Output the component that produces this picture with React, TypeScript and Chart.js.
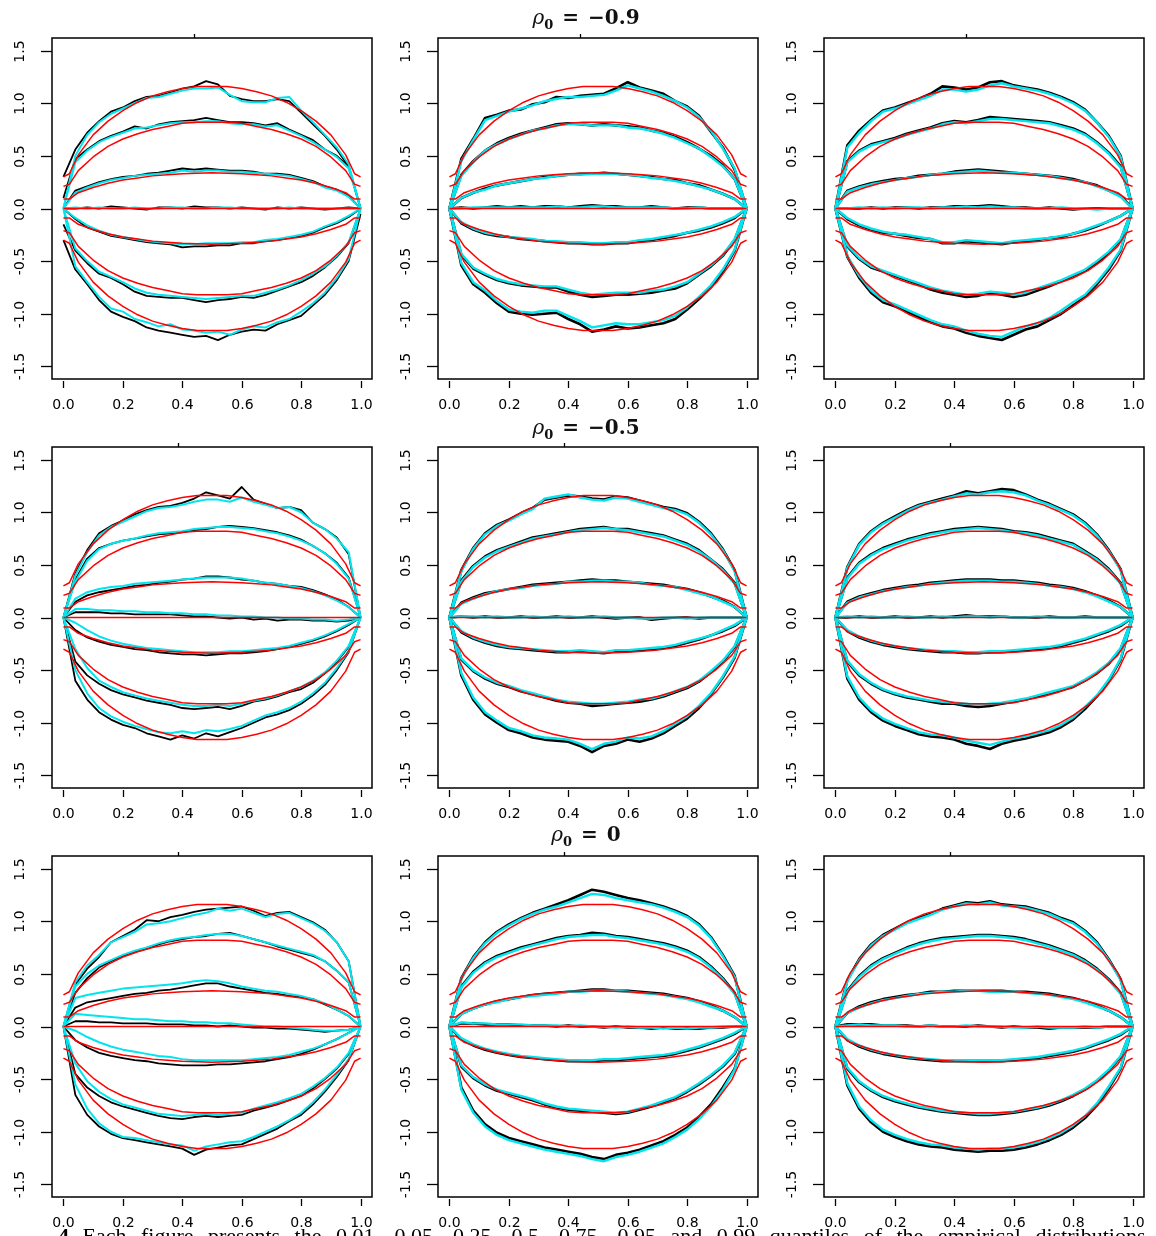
import React, { useEffect, useRef } from "react";
import { Chart, registerables } from "chart.js";
Chart.register(...registerables);

// ---------- shared grids / ticks ----------
const T = [0, 0.04, 0.08, 0.12, 0.16, 0.2, 0.24, 0.28, 0.32, 0.36, 0.4, 0.44, 0.48, 0.52, 0.56, 0.6, 0.64, 0.68, 0.72, 0.76, 0.8, 0.84, 0.88, 0.92, 0.96, 1.0];
const RT = [0, 0.02, 0.05, 0.1, 0.15, 0.2, 0.25, 0.3, 0.35, 0.4, 0.45, 0.5, 0.55, 0.6, 0.65, 0.7, 0.75, 0.8, 0.85, 0.9, 0.95, 0.98, 1.0];
const X_TICKS = [0, 0.2, 0.4, 0.6, 0.8, 1.0];
const X_LABELS = ["0.0", "0.2", "0.4", "0.6", "0.8", "1.0"];
const Y_TICKS = [-1.5, -1.0, -0.5, 0, 0.5, 1.0, 1.5];
const Y_LABELS = ["-1.5", "-1.0", "-0.5", "0.0", "0.5", "1.0", "1.5"];
const ROW_TITLES = ["\u22120.9", "\u22120.5", "0"];
const CAPTION_LEAD = "4.";
const CAPTION = "Each figure presents the 0.01, 0.05, 0.25, 0.5, 0.75, 0.95 and 0.99 quantiles of the empirical distributions";

// ---------- theoretical quantile curves (red) ----------
const RED_99 = [0.30, 0.33, 0.51, 0.70, 0.83, 0.93, 1.01, 1.07, 1.11, 1.14, 1.16, 1.16, 1.16, 1.14, 1.11, 1.07, 1.01, 0.93, 0.83, 0.70, 0.51, 0.33, 0.30];
const RED_95 = [0.21, 0.23, 0.36, 0.49, 0.59, 0.66, 0.71, 0.75, 0.78, 0.81, 0.82, 0.82, 0.82, 0.81, 0.78, 0.75, 0.71, 0.66, 0.59, 0.49, 0.36, 0.23, 0.21];
const RED_75 = [0.09, 0.09, 0.15, 0.20, 0.24, 0.27, 0.29, 0.31, 0.32, 0.33, 0.335, 0.34, 0.335, 0.33, 0.32, 0.31, 0.29, 0.27, 0.24, 0.20, 0.15, 0.09, 0.09];
const RED_50 = [0, 0, 0, 0, 0, 0, 0, 0, 0, 0, 0, 0, 0, 0, 0, 0, 0, 0, 0, 0, 0, 0, 0];
const RED_25 = [-0.09, -0.09, -0.15, -0.20, -0.24, -0.27, -0.29, -0.31, -0.32, -0.33, -0.335, -0.34, -0.335, -0.33, -0.32, -0.31, -0.29, -0.27, -0.24, -0.20, -0.15, -0.09, -0.09];
const RED_05 = [-0.21, -0.23, -0.36, -0.49, -0.59, -0.66, -0.71, -0.75, -0.78, -0.81, -0.82, -0.82, -0.82, -0.81, -0.78, -0.75, -0.71, -0.66, -0.59, -0.49, -0.36, -0.23, -0.21];
const RED_01 = [-0.30, -0.33, -0.51, -0.70, -0.83, -0.93, -1.01, -1.07, -1.11, -1.14, -1.16, -1.16, -1.16, -1.14, -1.11, -1.07, -1.01, -0.93, -0.83, -0.70, -0.51, -0.33, -0.30];
const RED = [RED_99, RED_95, RED_75, RED_50, RED_25, RED_05, RED_01];

// ---------- empirical quantiles: rows = 0.99, 0.95, 0.75, 0.5, 0.25, 0.05, 0.01 ----------
// row 1 (rho0 = -0.9)
const P11_BLACK = [
  [0.30, 0.56, 0.72, 0.83, 0.92, 0.96, 1.02, 1.06, 1.07, 1.10, 1.14, 1.16, 1.21, 1.18, 1.07, 1.04, 1.02, 1.02, 1.04, 1.02, 0.91, 0.80, 0.69, 0.56, 0.40, 0.0],
  [0.10, 0.47, 0.56, 0.64, 0.69, 0.73, 0.78, 0.76, 0.80, 0.82, 0.83, 0.84, 0.86, 0.84, 0.82, 0.82, 0.81, 0.79, 0.81, 0.75, 0.70, 0.65, 0.56, 0.50, 0.40, 0.0],
  [0.0, 0.17, 0.21, 0.25, 0.28, 0.30, 0.31, 0.33, 0.34, 0.36, 0.38, 0.37, 0.38, 0.37, 0.36, 0.36, 0.35, 0.33, 0.33, 0.32, 0.29, 0.26, 0.21, 0.18, 0.12, 0.0],
  [0.0, 0.0, 0.01, 0.0, 0.02, 0.01, 0.0, -0.01, 0.01, 0.01, 0.0, 0.02, 0.01, 0.01, 0.0, 0.01, 0.0, -0.01, 0.01, 0.0, 0.01, 0.0, -0.01, 0.0, 0.01, 0.0],
  [0.0, -0.10, -0.18, -0.22, -0.26, -0.28, -0.30, -0.32, -0.33, -0.34, -0.37, -0.36, -0.36, -0.35, -0.35, -0.33, -0.33, -0.31, -0.30, -0.28, -0.26, -0.23, -0.18, -0.14, -0.08, 0.0],
  [-0.15, -0.40, -0.52, -0.62, -0.66, -0.72, -0.79, -0.83, -0.84, -0.85, -0.85, -0.87, -0.89, -0.87, -0.86, -0.84, -0.85, -0.82, -0.78, -0.74, -0.70, -0.64, -0.56, -0.46, -0.33, 0.0],
  [-0.30, -0.58, -0.72, -0.87, -0.98, -1.03, -1.07, -1.13, -1.16, -1.18, -1.20, -1.22, -1.21, -1.25, -1.20, -1.17, -1.15, -1.16, -1.10, -1.06, -1.02, -0.92, -0.82, -0.68, -0.50, -0.05],
];
const P11_CYAN = [
  [0.0, 0.50, 0.70, 0.82, 0.90, 0.95, 1.00, 1.05, 1.06, 1.09, 1.12, 1.14, 1.14, 1.15, 1.08, 1.02, 1.01, 1.01, 1.05, 1.06, 0.93, 0.82, 0.70, 0.58, 0.42, 0.0],
  [0.0, 0.44, 0.55, 0.63, 0.68, 0.72, 0.76, 0.77, 0.79, 0.81, 0.82, 0.82, 0.83, 0.83, 0.81, 0.80, 0.80, 0.78, 0.79, 0.74, 0.69, 0.63, 0.56, 0.49, 0.38, 0.0],
  [0.0, 0.15, 0.20, 0.24, 0.27, 0.29, 0.31, 0.32, 0.33, 0.34, 0.36, 0.35, 0.36, 0.36, 0.35, 0.35, 0.34, 0.33, 0.32, 0.31, 0.28, 0.25, 0.20, 0.17, 0.11, 0.0],
  [0.0, 0.01, 0.0, 0.01, 0.0, 0.0, 0.01, 0.0, 0.0, 0.01, 0.01, 0.0, 0.0, 0.01, 0.01, 0.0, 0.0, 0.0, 0.0, 0.01, 0.0, 0.0, 0.0, 0.0, 0.0, 0.0],
  [0.0, -0.09, -0.16, -0.21, -0.25, -0.27, -0.29, -0.31, -0.32, -0.33, -0.34, -0.34, -0.33, -0.33, -0.33, -0.32, -0.32, -0.30, -0.29, -0.27, -0.25, -0.22, -0.17, -0.13, -0.07, 0.0],
  [0.0, -0.38, -0.50, -0.60, -0.65, -0.70, -0.76, -0.80, -0.82, -0.83, -0.84, -0.85, -0.86, -0.85, -0.84, -0.83, -0.83, -0.80, -0.77, -0.73, -0.68, -0.62, -0.55, -0.45, -0.32, 0.0],
  [0.0, -0.55, -0.70, -0.84, -0.95, -0.98, -1.05, -1.08, -1.12, -1.10, -1.15, -1.16, -1.18, -1.17, -1.20, -1.15, -1.12, -1.13, -1.08, -1.05, -0.98, -0.90, -0.80, -0.66, -0.48, 0.0],
];
const P12_BLACK = [
  [0.0, 0.47, 0.66, 0.86, 0.89, 0.93, 0.94, 0.99, 1.01, 1.06, 1.05, 1.07, 1.08, 1.09, 1.14, 1.20, 1.15, 1.12, 1.09, 1.02, 0.97, 0.88, 0.73, 0.58, 0.37, 0.0],
  [0.0, 0.32, 0.45, 0.55, 0.62, 0.67, 0.71, 0.74, 0.77, 0.80, 0.81, 0.80, 0.79, 0.80, 0.79, 0.78, 0.77, 0.74, 0.72, 0.68, 0.63, 0.57, 0.50, 0.41, 0.28, 0.0],
  [0.0, 0.10, 0.15, 0.19, 0.22, 0.24, 0.26, 0.28, 0.30, 0.31, 0.32, 0.33, 0.33, 0.34, 0.33, 0.32, 0.31, 0.30, 0.28, 0.27, 0.24, 0.22, 0.18, 0.14, 0.09, 0.0],
  [0.0, 0.01, 0.0, 0.01, 0.02, 0.01, 0.02, 0.01, 0.02, 0.02, 0.01, 0.02, 0.03, 0.02, 0.02, 0.01, 0.01, 0.02, 0.01, 0.0, 0.01, 0.01, 0.0, 0.0, 0.0, 0.0],
  [0.0, -0.14, -0.20, -0.24, -0.26, -0.27, -0.29, -0.30, -0.31, -0.32, -0.33, -0.33, -0.34, -0.34, -0.33, -0.33, -0.31, -0.30, -0.28, -0.26, -0.23, -0.21, -0.18, -0.14, -0.09, 0.0],
  [0.0, -0.44, -0.57, -0.63, -0.68, -0.71, -0.73, -0.74, -0.75, -0.75, -0.79, -0.82, -0.84, -0.83, -0.82, -0.82, -0.81, -0.80, -0.78, -0.76, -0.71, -0.63, -0.55, -0.45, -0.30, 0.0],
  [0.0, -0.54, -0.72, -0.80, -0.90, -0.98, -1.00, -1.01, -1.00, -0.99, -1.05, -1.10, -1.17, -1.15, -1.12, -1.14, -1.13, -1.11, -1.09, -1.05, -0.96, -0.86, -0.75, -0.60, -0.40, 0.0],
];
const P12_CYAN = [
  [0.0, 0.45, 0.65, 0.84, 0.88, 0.92, 0.95, 0.98, 1.02, 1.04, 1.06, 1.06, 1.07, 1.08, 1.12, 1.17, 1.14, 1.11, 1.07, 1.02, 0.96, 0.87, 0.74, 0.57, 0.38, 0.0],
  [0.0, 0.31, 0.44, 0.55, 0.61, 0.66, 0.70, 0.74, 0.76, 0.79, 0.80, 0.80, 0.79, 0.79, 0.79, 0.77, 0.76, 0.74, 0.71, 0.67, 0.62, 0.57, 0.49, 0.40, 0.28, 0.0],
  [0.0, 0.10, 0.15, 0.18, 0.22, 0.24, 0.26, 0.28, 0.29, 0.31, 0.32, 0.32, 0.33, 0.33, 0.33, 0.32, 0.31, 0.29, 0.28, 0.26, 0.24, 0.21, 0.18, 0.14, 0.09, 0.0],
  [0.0, 0.0, 0.01, 0.01, 0.01, 0.01, 0.01, 0.01, 0.01, 0.02, 0.01, 0.01, 0.02, 0.02, 0.01, 0.01, 0.01, 0.01, 0.01, 0.0, 0.0, 0.01, 0.0, 0.0, 0.0, 0.0],
  [0.0, -0.13, -0.19, -0.23, -0.25, -0.27, -0.28, -0.29, -0.31, -0.31, -0.32, -0.32, -0.33, -0.33, -0.32, -0.32, -0.30, -0.29, -0.27, -0.25, -0.23, -0.20, -0.17, -0.13, -0.08, 0.0],
  [0.0, -0.43, -0.56, -0.62, -0.67, -0.70, -0.72, -0.73, -0.74, -0.74, -0.77, -0.80, -0.82, -0.81, -0.80, -0.80, -0.80, -0.78, -0.77, -0.74, -0.70, -0.62, -0.54, -0.44, -0.29, 0.0],
  [0.0, -0.52, -0.70, -0.78, -0.88, -0.96, -0.98, -0.99, -0.97, -0.97, -1.02, -1.07, -1.13, -1.11, -1.09, -1.10, -1.10, -1.08, -1.06, -1.02, -0.94, -0.84, -0.73, -0.58, -0.39, 0.0],
];
const P13_BLACK = [
  [0.0, 0.60, 0.74, 0.84, 0.93, 0.96, 1.00, 1.04, 1.09, 1.16, 1.15, 1.13, 1.15, 1.20, 1.21, 1.17, 1.15, 1.13, 1.10, 1.06, 1.01, 0.94, 0.82, 0.69, 0.50, 0.0],
  [0.0, 0.45, 0.55, 0.61, 0.64, 0.67, 0.71, 0.74, 0.77, 0.81, 0.83, 0.82, 0.84, 0.87, 0.86, 0.85, 0.84, 0.83, 0.82, 0.79, 0.76, 0.71, 0.63, 0.53, 0.40, 0.0],
  [0.0, 0.17, 0.21, 0.24, 0.26, 0.28, 0.29, 0.31, 0.32, 0.33, 0.35, 0.36, 0.37, 0.36, 0.35, 0.34, 0.33, 0.32, 0.31, 0.30, 0.28, 0.25, 0.22, 0.17, 0.12, 0.0],
  [0.0, 0.0, 0.0, 0.01, 0.0, 0.01, 0.01, 0.0, 0.01, 0.01, 0.02, 0.02, 0.02, 0.03, 0.02, 0.01, 0.01, 0.0, 0.01, 0.0, -0.01, 0.0, 0.0, 0.0, 0.0, 0.0],
  [0.0, -0.10, -0.16, -0.20, -0.23, -0.24, -0.26, -0.28, -0.29, -0.33, -0.33, -0.31, -0.32, -0.33, -0.34, -0.32, -0.31, -0.30, -0.28, -0.27, -0.24, -0.21, -0.17, -0.12, -0.07, 0.0],
  [0.0, -0.36, -0.48, -0.56, -0.60, -0.64, -0.68, -0.72, -0.77, -0.80, -0.82, -0.84, -0.83, -0.80, -0.82, -0.84, -0.82, -0.78, -0.74, -0.69, -0.64, -0.59, -0.52, -0.42, -0.30, 0.0],
  [0.0, -0.46, -0.66, -0.80, -0.89, -0.93, -0.98, -1.03, -1.08, -1.12, -1.14, -1.18, -1.21, -1.23, -1.25, -1.20, -1.15, -1.12, -1.06, -1.00, -0.92, -0.84, -0.72, -0.58, -0.40, 0.0],
];
const P13_CYAN = [
  [0.0, 0.58, 0.72, 0.83, 0.92, 0.95, 0.99, 1.03, 1.07, 1.13, 1.13, 1.11, 1.13, 1.17, 1.19, 1.16, 1.14, 1.12, 1.09, 1.05, 1.00, 0.93, 0.82, 0.68, 0.49, 0.0],
  [0.0, 0.44, 0.54, 0.60, 0.63, 0.66, 0.70, 0.73, 0.76, 0.80, 0.82, 0.81, 0.83, 0.85, 0.85, 0.84, 0.83, 0.82, 0.81, 0.78, 0.75, 0.70, 0.62, 0.52, 0.39, 0.0],
  [0.0, 0.16, 0.20, 0.23, 0.25, 0.27, 0.29, 0.30, 0.32, 0.33, 0.34, 0.35, 0.36, 0.35, 0.34, 0.34, 0.33, 0.32, 0.31, 0.29, 0.27, 0.25, 0.21, 0.17, 0.11, 0.0],
  [0.0, 0.0, 0.01, 0.0, 0.01, 0.0, 0.01, 0.01, 0.0, 0.01, 0.01, 0.02, 0.01, 0.02, 0.01, 0.01, 0.0, 0.0, 0.0, 0.01, 0.0, 0.0, -0.01, 0.0, 0.0, 0.0],
  [0.0, -0.09, -0.15, -0.19, -0.22, -0.24, -0.25, -0.27, -0.29, -0.32, -0.32, -0.30, -0.31, -0.32, -0.33, -0.31, -0.30, -0.29, -0.28, -0.26, -0.24, -0.20, -0.16, -0.12, -0.07, 0.0],
  [0.0, -0.35, -0.47, -0.55, -0.59, -0.63, -0.67, -0.71, -0.75, -0.78, -0.80, -0.82, -0.81, -0.79, -0.80, -0.82, -0.80, -0.76, -0.72, -0.68, -0.63, -0.58, -0.50, -0.41, -0.29, 0.0],
  [0.0, -0.45, -0.64, -0.78, -0.87, -0.91, -0.96, -1.01, -1.06, -1.10, -1.12, -1.16, -1.19, -1.21, -1.22, -1.17, -1.12, -1.09, -1.04, -0.97, -0.89, -0.82, -0.70, -0.56, -0.39, 0.0],
];
// row 2 (rho0 = -0.5)
const P21_BLACK = [
  [0.0, 0.42, 0.64, 0.80, 0.87, 0.92, 0.98, 1.02, 1.05, 1.06, 1.09, 1.13, 1.19, 1.16, 1.13, 1.24, 1.12, 1.08, 1.04, 1.05, 1.02, 0.90, 0.84, 0.76, 0.60, 0.0],
  [0.0, 0.36, 0.56, 0.66, 0.70, 0.73, 0.75, 0.77, 0.79, 0.80, 0.81, 0.83, 0.84, 0.86, 0.87, 0.86, 0.85, 0.83, 0.81, 0.78, 0.74, 0.68, 0.61, 0.52, 0.38, 0.0],
  [0.0, 0.15, 0.21, 0.24, 0.26, 0.28, 0.30, 0.31, 0.33, 0.34, 0.36, 0.37, 0.39, 0.39, 0.38, 0.36, 0.35, 0.33, 0.32, 0.30, 0.29, 0.26, 0.22, 0.17, 0.10, 0.0],
  [0.0, 0.05, 0.05, 0.05, 0.04, 0.04, 0.03, 0.03, 0.03, 0.03, 0.02, 0.01, 0.01, 0.0, -0.01, 0.0, -0.02, -0.01, -0.03, -0.02, -0.02, -0.03, -0.03, -0.04, -0.03, 0.0],
  [0.0, -0.12, -0.19, -0.23, -0.26, -0.28, -0.30, -0.31, -0.33, -0.34, -0.35, -0.35, -0.36, -0.35, -0.34, -0.34, -0.33, -0.32, -0.30, -0.28, -0.25, -0.22, -0.18, -0.13, -0.07, 0.0],
  [0.0, -0.42, -0.55, -0.63, -0.69, -0.73, -0.76, -0.79, -0.81, -0.83, -0.86, -0.87, -0.86, -0.85, -0.87, -0.84, -0.80, -0.78, -0.75, -0.71, -0.68, -0.62, -0.53, -0.42, -0.28, 0.0],
  [0.0, -0.60, -0.78, -0.90, -0.97, -1.02, -1.05, -1.10, -1.13, -1.16, -1.12, -1.15, -1.10, -1.13, -1.09, -1.05, -1.00, -0.95, -0.92, -0.88, -0.82, -0.74, -0.64, -0.50, -0.33, 0.0],
];
const P21_CYAN = [
  [0.0, 0.40, 0.62, 0.78, 0.86, 0.91, 0.96, 1.01, 1.04, 1.05, 1.07, 1.10, 1.12, 1.12, 1.10, 1.14, 1.10, 1.07, 1.04, 1.05, 1.00, 0.90, 0.84, 0.75, 0.62, 0.0],
  [0.0, 0.34, 0.54, 0.65, 0.70, 0.73, 0.75, 0.78, 0.80, 0.81, 0.82, 0.84, 0.85, 0.86, 0.86, 0.85, 0.84, 0.82, 0.80, 0.77, 0.73, 0.68, 0.61, 0.51, 0.37, 0.0],
  [0.0, 0.18, 0.24, 0.27, 0.29, 0.30, 0.32, 0.33, 0.34, 0.35, 0.36, 0.37, 0.38, 0.38, 0.38, 0.37, 0.35, 0.33, 0.32, 0.30, 0.28, 0.25, 0.21, 0.16, 0.10, 0.0],
  [0.0, 0.08, 0.08, 0.07, 0.07, 0.06, 0.06, 0.05, 0.05, 0.04, 0.04, 0.03, 0.03, 0.02, 0.02, 0.01, 0.01, 0.0, 0.0, -0.01, -0.01, -0.02, -0.02, -0.03, -0.02, 0.0],
  [0.0, -0.05, -0.12, -0.18, -0.22, -0.25, -0.27, -0.29, -0.30, -0.31, -0.32, -0.33, -0.33, -0.33, -0.32, -0.32, -0.31, -0.30, -0.29, -0.27, -0.24, -0.21, -0.17, -0.12, -0.06, 0.0],
  [0.0, -0.30, -0.48, -0.60, -0.66, -0.71, -0.74, -0.77, -0.79, -0.81, -0.83, -0.84, -0.84, -0.83, -0.84, -0.82, -0.79, -0.77, -0.74, -0.70, -0.66, -0.60, -0.52, -0.41, -0.27, 0.0],
  [0.0, -0.50, -0.72, -0.86, -0.94, -0.99, -1.03, -1.06, -1.09, -1.10, -1.08, -1.10, -1.07, -1.08, -1.06, -1.03, -0.98, -0.93, -0.90, -0.86, -0.80, -0.72, -0.62, -0.48, -0.32, 0.0],
];
const P22_BLACK = [
  [0.0, 0.45, 0.66, 0.80, 0.88, 0.93, 0.99, 1.04, 1.12, 1.14, 1.16, 1.15, 1.13, 1.12, 1.15, 1.14, 1.11, 1.08, 1.05, 1.03, 0.99, 0.91, 0.80, 0.65, 0.45, 0.0],
  [0.0, 0.35, 0.49, 0.58, 0.64, 0.68, 0.72, 0.76, 0.78, 0.80, 0.82, 0.84, 0.85, 0.86, 0.84, 0.84, 0.82, 0.80, 0.78, 0.74, 0.70, 0.64, 0.55, 0.46, 0.33, 0.0],
  [0.0, 0.14, 0.19, 0.23, 0.25, 0.27, 0.29, 0.31, 0.32, 0.33, 0.34, 0.35, 0.36, 0.35, 0.35, 0.34, 0.33, 0.32, 0.31, 0.29, 0.27, 0.24, 0.20, 0.16, 0.10, 0.0],
  [0.0, 0.01, 0.0, 0.01, 0.0, 0.0, 0.01, 0.0, 0.0, 0.01, 0.0, 0.0, 0.01, 0.0, -0.01, 0.0, 0.0, -0.02, -0.01, 0.0, 0.0, -0.01, 0.0, 0.0, 0.0, 0.0],
  [0.0, -0.14, -0.20, -0.24, -0.27, -0.29, -0.30, -0.31, -0.32, -0.33, -0.33, -0.32, -0.33, -0.34, -0.32, -0.32, -0.31, -0.30, -0.29, -0.27, -0.24, -0.21, -0.17, -0.13, -0.08, 0.0],
  [0.0, -0.40, -0.51, -0.58, -0.63, -0.66, -0.70, -0.73, -0.76, -0.79, -0.81, -0.82, -0.84, -0.83, -0.82, -0.81, -0.80, -0.78, -0.75, -0.71, -0.67, -0.61, -0.52, -0.42, -0.28, 0.0],
  [0.0, -0.55, -0.78, -0.92, -1.00, -1.07, -1.10, -1.14, -1.16, -1.17, -1.18, -1.22, -1.28, -1.22, -1.20, -1.16, -1.18, -1.15, -1.10, -1.03, -0.96, -0.86, -0.73, -0.57, -0.38, 0.0],
];
const P22_CYAN = [
  [0.0, 0.44, 0.65, 0.79, 0.87, 0.92, 0.98, 1.03, 1.13, 1.15, 1.17, 1.14, 1.12, 1.11, 1.14, 1.13, 1.10, 1.07, 1.04, 1.02, 0.98, 0.90, 0.79, 0.64, 0.44, 0.0],
  [0.0, 0.34, 0.48, 0.57, 0.63, 0.67, 0.71, 0.75, 0.77, 0.79, 0.81, 0.83, 0.84, 0.85, 0.84, 0.83, 0.81, 0.79, 0.77, 0.73, 0.69, 0.63, 0.55, 0.45, 0.32, 0.0],
  [0.0, 0.13, 0.18, 0.22, 0.25, 0.27, 0.28, 0.30, 0.31, 0.32, 0.34, 0.34, 0.35, 0.35, 0.34, 0.34, 0.33, 0.31, 0.30, 0.29, 0.26, 0.23, 0.20, 0.15, 0.10, 0.0],
  [0.0, 0.01, 0.01, 0.0, 0.01, 0.0, 0.0, 0.01, 0.0, 0.0, 0.01, 0.0, 0.0, 0.01, 0.0, 0.0, -0.01, -0.01, 0.0, 0.0, -0.01, 0.0, 0.0, 0.0, 0.0, 0.0],
  [0.0, -0.13, -0.19, -0.23, -0.26, -0.28, -0.29, -0.30, -0.31, -0.32, -0.32, -0.31, -0.32, -0.33, -0.31, -0.31, -0.30, -0.29, -0.28, -0.26, -0.23, -0.20, -0.17, -0.12, -0.07, 0.0],
  [0.0, -0.39, -0.50, -0.57, -0.62, -0.65, -0.69, -0.72, -0.75, -0.78, -0.80, -0.81, -0.82, -0.82, -0.81, -0.80, -0.78, -0.77, -0.74, -0.70, -0.66, -0.60, -0.51, -0.41, -0.27, 0.0],
  [0.0, -0.53, -0.76, -0.90, -0.98, -1.05, -1.08, -1.12, -1.14, -1.15, -1.16, -1.20, -1.25, -1.20, -1.18, -1.14, -1.15, -1.13, -1.08, -1.01, -0.94, -0.84, -0.72, -0.56, -0.37, 0.0],
];
const P23_BLACK = [
  [0.0, 0.48, 0.70, 0.82, 0.90, 0.96, 1.02, 1.07, 1.10, 1.13, 1.16, 1.20, 1.18, 1.20, 1.22, 1.21, 1.17, 1.12, 1.08, 1.03, 0.98, 0.90, 0.79, 0.64, 0.46, 0.0],
  [0.0, 0.38, 0.52, 0.60, 0.66, 0.70, 0.74, 0.77, 0.80, 0.82, 0.84, 0.85, 0.86, 0.85, 0.84, 0.82, 0.81, 0.79, 0.76, 0.73, 0.70, 0.63, 0.56, 0.46, 0.33, 0.0],
  [0.0, 0.15, 0.20, 0.23, 0.26, 0.28, 0.30, 0.31, 0.33, 0.34, 0.35, 0.36, 0.36, 0.36, 0.35, 0.35, 0.34, 0.33, 0.31, 0.30, 0.28, 0.25, 0.21, 0.16, 0.10, 0.0],
  [0.0, 0.0, 0.01, 0.0, 0.0, 0.01, 0.0, 0.0, 0.01, 0.0, 0.01, 0.02, 0.01, 0.01, 0.01, 0.0, 0.0, 0.0, 0.01, 0.0, 0.0, 0.01, 0.0, 0.0, 0.0, 0.0],
  [0.0, -0.13, -0.19, -0.23, -0.26, -0.28, -0.30, -0.31, -0.32, -0.33, -0.33, -0.34, -0.34, -0.33, -0.33, -0.32, -0.31, -0.30, -0.29, -0.27, -0.24, -0.21, -0.17, -0.13, -0.08, 0.0],
  [0.0, -0.42, -0.55, -0.63, -0.69, -0.73, -0.76, -0.78, -0.80, -0.82, -0.82, -0.84, -0.85, -0.84, -0.82, -0.80, -0.78, -0.75, -0.72, -0.69, -0.66, -0.60, -0.53, -0.44, -0.30, 0.0],
  [0.0, -0.58, -0.78, -0.90, -0.98, -1.03, -1.07, -1.11, -1.13, -1.14, -1.16, -1.20, -1.22, -1.25, -1.20, -1.17, -1.15, -1.12, -1.09, -1.04, -0.97, -0.87, -0.75, -0.60, -0.40, 0.0],
];
const P23_CYAN = [
  [0.0, 0.47, 0.69, 0.81, 0.89, 0.95, 1.01, 1.06, 1.09, 1.12, 1.15, 1.18, 1.17, 1.19, 1.20, 1.19, 1.16, 1.11, 1.07, 1.02, 0.97, 0.89, 0.78, 0.63, 0.45, 0.0],
  [0.0, 0.37, 0.51, 0.59, 0.65, 0.69, 0.73, 0.76, 0.79, 0.81, 0.83, 0.84, 0.85, 0.84, 0.83, 0.81, 0.80, 0.78, 0.75, 0.72, 0.69, 0.62, 0.55, 0.45, 0.32, 0.0],
  [0.0, 0.14, 0.19, 0.22, 0.25, 0.27, 0.29, 0.30, 0.32, 0.33, 0.34, 0.35, 0.35, 0.35, 0.34, 0.34, 0.33, 0.32, 0.30, 0.29, 0.27, 0.24, 0.20, 0.15, 0.10, 0.0],
  [0.0, 0.01, 0.0, 0.01, 0.0, 0.0, 0.01, 0.0, 0.0, 0.01, 0.0, 0.01, 0.01, 0.0, 0.01, 0.0, 0.0, 0.01, 0.0, 0.0, 0.0, 0.0, 0.0, 0.0, 0.0, 0.0],
  [0.0, -0.12, -0.18, -0.22, -0.25, -0.27, -0.29, -0.30, -0.31, -0.32, -0.32, -0.33, -0.33, -0.32, -0.32, -0.31, -0.30, -0.29, -0.28, -0.26, -0.23, -0.20, -0.16, -0.12, -0.07, 0.0],
  [0.0, -0.41, -0.54, -0.62, -0.68, -0.72, -0.75, -0.77, -0.79, -0.80, -0.81, -0.82, -0.83, -0.82, -0.81, -0.79, -0.77, -0.74, -0.71, -0.68, -0.65, -0.59, -0.52, -0.43, -0.29, 0.0],
  [0.0, -0.56, -0.76, -0.88, -0.96, -1.01, -1.05, -1.09, -1.11, -1.12, -1.14, -1.17, -1.19, -1.21, -1.18, -1.15, -1.13, -1.10, -1.07, -1.02, -0.95, -0.85, -0.74, -0.59, -0.39, 0.0],
];
// row 3 (rho0 = 0)
const P31_BLACK = [
  [0.0, 0.40, 0.55, 0.66, 0.80, 0.86, 0.92, 1.01, 1.00, 1.04, 1.06, 1.09, 1.11, 1.12, 1.13, 1.14, 1.10, 1.05, 1.08, 1.09, 1.04, 0.99, 0.92, 0.80, 0.62, 0.0],
  [0.0, 0.32, 0.46, 0.56, 0.62, 0.67, 0.71, 0.74, 0.78, 0.81, 0.83, 0.85, 0.86, 0.88, 0.89, 0.86, 0.83, 0.80, 0.76, 0.73, 0.70, 0.67, 0.62, 0.53, 0.42, 0.0],
  [0.0, 0.18, 0.23, 0.25, 0.27, 0.29, 0.31, 0.32, 0.34, 0.35, 0.37, 0.39, 0.41, 0.41, 0.38, 0.36, 0.34, 0.32, 0.31, 0.29, 0.28, 0.26, 0.21, 0.16, 0.10, 0.0],
  [0.0, 0.05, 0.05, 0.04, 0.04, 0.03, 0.03, 0.03, 0.02, 0.02, 0.02, 0.01, 0.01, 0.0, 0.01, 0.0, -0.01, -0.01, -0.02, -0.02, -0.03, -0.04, -0.05, -0.04, -0.03, 0.0],
  [0.0, -0.13, -0.20, -0.25, -0.28, -0.30, -0.32, -0.33, -0.35, -0.36, -0.37, -0.37, -0.37, -0.36, -0.36, -0.35, -0.34, -0.33, -0.31, -0.29, -0.26, -0.22, -0.17, -0.12, -0.06, 0.0],
  [0.0, -0.45, -0.58, -0.66, -0.72, -0.76, -0.79, -0.82, -0.85, -0.87, -0.88, -0.86, -0.85, -0.86, -0.85, -0.84, -0.80, -0.77, -0.74, -0.70, -0.66, -0.59, -0.50, -0.40, -0.26, 0.0],
  [0.0, -0.65, -0.84, -0.95, -1.02, -1.06, -1.08, -1.10, -1.12, -1.14, -1.16, -1.22, -1.17, -1.15, -1.13, -1.12, -1.07, -1.02, -0.97, -0.90, -0.84, -0.74, -0.62, -0.48, -0.32, 0.0],
];
const P31_CYAN = [
  [0.0, 0.42, 0.58, 0.68, 0.80, 0.85, 0.90, 0.97, 0.98, 1.00, 1.03, 1.06, 1.08, 1.12, 1.10, 1.12, 1.08, 1.04, 1.07, 1.08, 1.03, 0.98, 0.91, 0.80, 0.62, 0.0],
  [0.0, 0.38, 0.50, 0.58, 0.63, 0.68, 0.72, 0.75, 0.79, 0.82, 0.84, 0.85, 0.87, 0.88, 0.88, 0.86, 0.83, 0.80, 0.77, 0.74, 0.71, 0.68, 0.62, 0.53, 0.42, 0.0],
  [0.0, 0.27, 0.30, 0.32, 0.34, 0.36, 0.37, 0.38, 0.39, 0.40, 0.41, 0.43, 0.44, 0.43, 0.41, 0.38, 0.36, 0.34, 0.33, 0.31, 0.29, 0.26, 0.22, 0.16, 0.10, 0.0],
  [0.0, 0.12, 0.11, 0.10, 0.09, 0.08, 0.07, 0.07, 0.06, 0.05, 0.05, 0.04, 0.04, 0.03, 0.03, 0.02, 0.01, 0.0, 0.0, -0.01, -0.02, -0.03, -0.04, -0.04, -0.03, 0.0],
  [0.0, -0.04, -0.10, -0.15, -0.19, -0.22, -0.24, -0.26, -0.28, -0.29, -0.31, -0.32, -0.32, -0.32, -0.32, -0.32, -0.31, -0.30, -0.29, -0.27, -0.24, -0.21, -0.17, -0.12, -0.06, 0.0],
  [0.0, -0.35, -0.52, -0.62, -0.69, -0.74, -0.77, -0.80, -0.83, -0.84, -0.85, -0.84, -0.83, -0.84, -0.83, -0.82, -0.78, -0.75, -0.72, -0.68, -0.64, -0.57, -0.49, -0.39, -0.25, 0.0],
  [0.0, -0.55, -0.78, -0.92, -1.00, -1.05, -1.06, -1.08, -1.10, -1.12, -1.13, -1.18, -1.14, -1.12, -1.10, -1.09, -1.05, -1.00, -0.95, -0.89, -0.82, -0.72, -0.60, -0.46, -0.31, 0.0],
];
const P32_BLACK = [
  [0.0, 0.46, 0.66, 0.80, 0.90, 0.97, 1.03, 1.08, 1.12, 1.16, 1.20, 1.25, 1.30, 1.28, 1.25, 1.22, 1.20, 1.17, 1.14, 1.10, 1.05, 0.97, 0.85, 0.68, 0.48, 0.0],
  [0.0, 0.38, 0.52, 0.61, 0.67, 0.71, 0.75, 0.78, 0.81, 0.84, 0.86, 0.87, 0.89, 0.88, 0.86, 0.85, 0.83, 0.81, 0.79, 0.76, 0.72, 0.66, 0.57, 0.46, 0.32, 0.0],
  [0.0, 0.12, 0.17, 0.21, 0.24, 0.26, 0.28, 0.30, 0.31, 0.32, 0.33, 0.34, 0.35, 0.35, 0.34, 0.34, 0.33, 0.32, 0.31, 0.29, 0.27, 0.24, 0.20, 0.15, 0.09, 0.0],
  [0.0, 0.03, 0.03, 0.02, 0.02, 0.02, 0.01, 0.01, 0.01, 0.0, 0.01, 0.0, 0.0, -0.01, 0.0, -0.01, -0.01, -0.02, -0.01, -0.02, -0.02, -0.02, -0.01, -0.01, 0.0, 0.0],
  [0.0, -0.12, -0.18, -0.22, -0.25, -0.27, -0.29, -0.30, -0.31, -0.32, -0.33, -0.33, -0.33, -0.32, -0.32, -0.31, -0.30, -0.29, -0.28, -0.26, -0.23, -0.20, -0.16, -0.12, -0.07, 0.0],
  [0.0, -0.38, -0.49, -0.56, -0.61, -0.64, -0.67, -0.70, -0.74, -0.77, -0.79, -0.80, -0.81, -0.82, -0.83, -0.82, -0.79, -0.76, -0.72, -0.68, -0.62, -0.55, -0.47, -0.38, -0.26, 0.0],
  [0.0, -0.58, -0.80, -0.93, -1.01, -1.06, -1.09, -1.12, -1.15, -1.17, -1.19, -1.21, -1.24, -1.26, -1.22, -1.20, -1.17, -1.13, -1.09, -1.03, -0.96, -0.86, -0.74, -0.58, -0.40, 0.0],
];
const P32_CYAN = [
  [0.0, 0.45, 0.65, 0.79, 0.89, 0.96, 1.02, 1.07, 1.11, 1.14, 1.18, 1.22, 1.26, 1.25, 1.22, 1.20, 1.18, 1.16, 1.13, 1.09, 1.04, 0.96, 0.84, 0.67, 0.47, 0.0],
  [0.0, 0.37, 0.51, 0.60, 0.66, 0.70, 0.74, 0.77, 0.80, 0.83, 0.85, 0.86, 0.87, 0.87, 0.85, 0.84, 0.82, 0.80, 0.78, 0.75, 0.71, 0.65, 0.56, 0.45, 0.31, 0.0],
  [0.0, 0.12, 0.17, 0.21, 0.23, 0.26, 0.28, 0.29, 0.30, 0.31, 0.33, 0.33, 0.34, 0.34, 0.34, 0.33, 0.32, 0.31, 0.30, 0.28, 0.26, 0.23, 0.19, 0.15, 0.09, 0.0],
  [0.0, 0.04, 0.03, 0.03, 0.02, 0.02, 0.02, 0.01, 0.01, 0.01, 0.0, 0.01, 0.0, 0.0, -0.01, 0.0, -0.01, -0.01, -0.02, -0.01, -0.02, -0.01, -0.01, 0.0, 0.0, 0.0],
  [0.0, -0.11, -0.17, -0.21, -0.24, -0.26, -0.28, -0.29, -0.30, -0.31, -0.32, -0.32, -0.32, -0.31, -0.31, -0.30, -0.29, -0.28, -0.27, -0.25, -0.22, -0.19, -0.15, -0.11, -0.06, 0.0],
  [0.0, -0.37, -0.48, -0.55, -0.60, -0.63, -0.66, -0.69, -0.73, -0.76, -0.78, -0.79, -0.80, -0.81, -0.82, -0.81, -0.78, -0.75, -0.71, -0.67, -0.61, -0.54, -0.46, -0.37, -0.25, 0.0],
  [0.0, -0.60, -0.82, -0.95, -1.03, -1.08, -1.11, -1.14, -1.17, -1.19, -1.21, -1.23, -1.26, -1.28, -1.24, -1.22, -1.19, -1.15, -1.11, -1.05, -0.98, -0.88, -0.76, -0.60, -0.41, 0.0],
];
const P33_BLACK = [
  [0.0, 0.44, 0.64, 0.78, 0.87, 0.93, 0.99, 1.03, 1.07, 1.12, 1.15, 1.18, 1.17, 1.19, 1.16, 1.15, 1.14, 1.11, 1.08, 1.03, 0.99, 0.91, 0.80, 0.64, 0.45, 0.0],
  [0.0, 0.34, 0.48, 0.58, 0.65, 0.70, 0.75, 0.79, 0.82, 0.84, 0.85, 0.86, 0.87, 0.87, 0.86, 0.85, 0.83, 0.80, 0.77, 0.73, 0.69, 0.63, 0.55, 0.45, 0.32, 0.0],
  [0.0, 0.13, 0.19, 0.23, 0.26, 0.28, 0.30, 0.31, 0.33, 0.33, 0.34, 0.34, 0.34, 0.34, 0.34, 0.33, 0.33, 0.32, 0.31, 0.29, 0.27, 0.24, 0.20, 0.15, 0.09, 0.0],
  [0.0, 0.02, 0.02, 0.02, 0.01, 0.01, 0.01, 0.0, 0.01, 0.0, 0.0, 0.0, 0.01, 0.0, -0.01, 0.0, -0.01, -0.01, -0.02, -0.01, -0.01, -0.01, -0.01, 0.0, 0.0, 0.0],
  [0.0, -0.13, -0.19, -0.23, -0.26, -0.28, -0.30, -0.31, -0.32, -0.33, -0.33, -0.33, -0.33, -0.33, -0.33, -0.32, -0.31, -0.30, -0.28, -0.26, -0.24, -0.21, -0.17, -0.13, -0.08, 0.0],
  [0.0, -0.40, -0.53, -0.61, -0.67, -0.71, -0.74, -0.77, -0.79, -0.81, -0.82, -0.83, -0.84, -0.84, -0.83, -0.82, -0.80, -0.78, -0.75, -0.71, -0.66, -0.60, -0.52, -0.42, -0.29, 0.0],
  [0.0, -0.56, -0.78, -0.91, -1.00, -1.05, -1.09, -1.12, -1.14, -1.15, -1.17, -1.18, -1.19, -1.18, -1.18, -1.17, -1.15, -1.12, -1.08, -1.03, -0.96, -0.87, -0.75, -0.59, -0.40, 0.0],
];
const P33_CYAN = [
  [0.0, 0.43, 0.63, 0.77, 0.86, 0.92, 0.98, 1.02, 1.06, 1.11, 1.14, 1.17, 1.16, 1.18, 1.15, 1.14, 1.13, 1.10, 1.07, 1.02, 0.98, 0.90, 0.79, 0.63, 0.44, 0.0],
  [0.0, 0.33, 0.47, 0.57, 0.64, 0.69, 0.74, 0.78, 0.81, 0.83, 0.84, 0.85, 0.86, 0.86, 0.85, 0.84, 0.82, 0.79, 0.76, 0.72, 0.68, 0.62, 0.54, 0.44, 0.31, 0.0],
  [0.0, 0.13, 0.18, 0.22, 0.25, 0.27, 0.29, 0.31, 0.32, 0.33, 0.33, 0.34, 0.34, 0.33, 0.33, 0.33, 0.32, 0.31, 0.30, 0.28, 0.26, 0.23, 0.19, 0.15, 0.09, 0.0],
  [0.0, 0.01, 0.02, 0.01, 0.01, 0.01, 0.0, 0.0, 0.01, 0.0, 0.0, 0.01, 0.0, 0.0, 0.0, -0.01, -0.01, 0.0, -0.01, -0.01, -0.01, 0.0, -0.01, 0.0, 0.0, 0.0],
  [0.0, -0.12, -0.18, -0.22, -0.25, -0.27, -0.29, -0.30, -0.31, -0.32, -0.32, -0.32, -0.32, -0.32, -0.32, -0.31, -0.30, -0.29, -0.27, -0.25, -0.23, -0.20, -0.16, -0.12, -0.07, 0.0],
  [0.0, -0.39, -0.52, -0.60, -0.66, -0.70, -0.73, -0.76, -0.78, -0.80, -0.81, -0.82, -0.83, -0.83, -0.82, -0.81, -0.79, -0.77, -0.74, -0.70, -0.65, -0.59, -0.51, -0.41, -0.28, 0.0],
  [0.0, -0.54, -0.76, -0.89, -0.98, -1.03, -1.07, -1.10, -1.12, -1.13, -1.15, -1.16, -1.17, -1.16, -1.16, -1.15, -1.13, -1.10, -1.06, -1.01, -0.94, -0.85, -0.73, -0.57, -0.39, 0.0],
];

const PANELS = [
  [P11_BLACK, P11_CYAN], [P12_BLACK, P12_CYAN], [P13_BLACK, P13_CYAN],
  [P21_BLACK, P21_CYAN], [P22_BLACK, P22_CYAN], [P23_BLACK, P23_CYAN],
  [P31_BLACK, P31_CYAN], [P32_BLACK, P32_CYAN], [P33_BLACK, P33_CYAN],
];

// ---------- layout ----------
const BOX_LEFT = [52, 438, 824];
const BOX_TOP = [38, 447, 856];
const BOX_W = 320;
const BOX_H = 341;
const PAD_L = 52, PAD_T = 38, PAD_R = 16, PAD_B = 42;
const TOP_MARK = [0.441, 0.387, 0.387];
const TITLE_Y = [17, 427, 834];

function series(xs: number[], ys: number[], color: string, width: number) {
  return {
    data: xs.map((x, i) => ({ x, y: ys[i] })),
    borderColor: color,
    backgroundColor: color,
    borderWidth: width,
    pointRadius: 0,
    fill: false,
    tension: 0,
    borderJoinStyle: "round" as const,
  };
}

const axesPlugin = {
  id: "rAxes",
  afterDraw(chart: any) {
    const { ctx, chartArea, scales } = chart;
    const { left, top, right, bottom } = chartArea;
    const xs = scales.x, ys = scales.y;
    const mark = chart.options.plugins.rAxes.mark;
    ctx.save();
    ctx.strokeStyle = "#000";
    ctx.fillStyle = "#000";
    ctx.lineWidth = 1.5;
    ctx.strokeRect(left, top, right - left, bottom - top);
    ctx.lineWidth = 1.3;
    ctx.font = '14px "DejaVu Sans", "Liberation Sans", sans-serif';
    ctx.textAlign = "center";
    ctx.textBaseline = "middle";
    Y_TICKS.forEach((v, i) => {
      const py = Math.round(ys.getPixelForValue(v)) + 0.5;
      ctx.beginPath();
      ctx.moveTo(left - 11, py);
      ctx.lineTo(left, py);
      ctx.stroke();
      ctx.save();
      ctx.translate(left - 32, py);
      ctx.rotate(-Math.PI / 2);
      ctx.fillText(Y_LABELS[i], 0, 0);
      ctx.restore();
    });
    X_TICKS.forEach((v, i) => {
      const px = Math.round(xs.getPixelForValue(v)) + 0.5;
      ctx.beginPath();
      ctx.moveTo(px, bottom + 2);
      ctx.lineTo(px, bottom + 9);
      ctx.stroke();
      ctx.fillText(X_LABELS[i], px, bottom + 26);
    });
    const mx = Math.round(xs.getPixelForValue(mark)) + 0.5;
    ctx.beginPath();
    ctx.moveTo(mx, top - 4);
    ctx.lineTo(mx, top);
    ctx.stroke();
    ctx.restore();
  },
};

function Panel({ idx }: { idx: number }) {
  const ref = useRef<HTMLCanvasElement | null>(null);
  const row = Math.floor(idx / 3);
  const col = idx % 3;
  useEffect(() => {
    if (!ref.current) return;
    const [black, cyan] = PANELS[idx];
    const bw = col === 0 ? 1.8 : 2.6;
    const cw = col === 0 ? 2 : 2.4;
    const datasets: any[] = [];
    RED.forEach((r) => datasets.push(series(RT, r, "#ff0000", 1.5)));
    cyan.forEach((c) => datasets.push(series(T, c, "#00e5ee", cw)));
    black.forEach((b) => datasets.push(series(T, b, "#000000", bw)));
    const chart = new Chart(ref.current, {
      type: "line",
      data: { datasets },
      options: {
        animation: false,
        responsive: false,
        devicePixelRatio: 1,
        layout: { padding: { left: PAD_L, top: PAD_T, right: PAD_R, bottom: PAD_B } },
        scales: {
          x: { type: "linear", min: -0.0385, max: 1.0385, display: false },
          y: { type: "linear", min: -1.62, max: 1.62, display: false },
        },
        plugins: {
          legend: { display: false },
          tooltip: { enabled: false },
          rAxes: { mark: TOP_MARK[row] },
        } as any,
        events: [],
      },
      plugins: [axesPlugin],
    });
    return () => chart.destroy();
  }, [idx]);
  return (
    <canvas
      ref={ref}
      width={PAD_L + BOX_W + PAD_R}
      height={PAD_T + BOX_H + PAD_B}
      style={{
        position: "absolute",
        left: BOX_LEFT[col] - PAD_L,
        top: BOX_TOP[row] - PAD_T,
        width: PAD_L + BOX_W + PAD_R,
        height: PAD_T + BOX_H + PAD_B,
      }}
    />
  );
}

function Title({ row }: { row: number }) {
  return (
    <div
      style={{
        position: "absolute",
        left: 386,
        width: 400,
        top: TITLE_Y[row] - 14,
        height: 28,
        lineHeight: "28px",
        textAlign: "center",
        fontFamily: '"DejaVu Serif", "Liberation Serif", serif',
        fontWeight: "bold",
        fontSize: 20,
        color: "#111",
        zIndex: 5,
      }}
    >
      <span style={{ fontStyle: "italic", fontWeight: "normal" }}>ρ</span>
      <span style={{ fontSize: 13, position: "relative", top: 5 }}>0</span>
      <span style={{ margin: "0 9px" }}>=</span>
      <span>{ROW_TITLES[row]}</span>
    </div>
  );
}

export default function App() {
  return (
    <div
      style={{
        position: "absolute",
        left: 0,
        top: 0,
        width: 1156,
        height: 1236,
        overflow: "hidden",
        background: "#fff",
      }}
    >
      {[0, 1, 2, 3, 4, 5, 6, 7, 8].map((i) => (
        <Panel key={i} idx={i} />
      ))}
      {[0, 1, 2].map((r) => (
        <Title key={r} row={r} />
      ))}
      <div
        style={{
          position: "absolute",
          left: 58,
          top: 1225,
          height: 22,
          lineHeight: "22px",
          whiteSpace: "nowrap",
          fontFamily: '"Liberation Serif", serif',
          fontSize: 22,
          wordSpacing: 9,
          color: "#000",
        }}
      >
        <span style={{ fontWeight: "bold", marginRight: 8 }}>{CAPTION_LEAD}</span>
        {CAPTION}
      </div>
    </div>
  );
}
